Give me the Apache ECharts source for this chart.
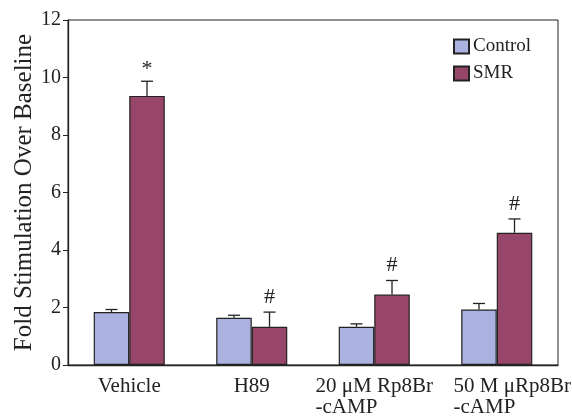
<!DOCTYPE html>
<html>
<head>
<meta charset="utf-8">
<script src="https://cdn.jsdelivr.net/npm/echarts@6/dist/echarts.min.js"></script>
<style>html,body{margin:0;padding:0;background:#fff}#chart{width:572px;height:416px}</style>
</head>
<body>
<div id="chart"></div>
<script>
// Treatment groups along the x axis
const categories = ['Vehicle', 'H89', '20 μM Rp8Br\n-cAMP', '50 M μRp8Br\n-cAMP'];
// Mean fold stimulation
const controlValues = [1.84, 1.64, 1.33, 1.93];
const smrValues = [9.36, 1.33, 2.45, 4.60];
// Upper error (SEM) for each bar
const controlErrors = [0.09, 0.09, 0.10, 0.21];
const smrErrors = [0.51, 0.51, 0.49, 0.48];
// Significance marks over SMR bars
const smrMarks = ['*', '#', '#', '#'];
const yTicks = [0, 2, 4, 6, 8, 10, 12];

const FONT = '"Liberation Serif", "Times New Roman", serif';
const CONTROL_COLOR = '#abb2e0';
const SMR_COLOR = '#974669';
const BAR_FRACTION = 0.29;

function errorSeries(values, errors, side, marks) {
  return {
    type: 'custom',
    silent: true,
    z: 5,
    data: values.map((v, i) => [i, v, v + errors[i]]),
    renderItem: function (params, api) {
      const i = api.value(0);
      const band = api.size([1, 0])[0];
      const off = side * band * BAR_FRACTION / 2;
      const base = api.coord([i, api.value(1)]);
      const top = api.coord([i, api.value(2)]);
      const x = base[0] + off;
      const children = [
        { type: 'line', shape: { x1: x, y1: base[1], x2: x, y2: top[1] }, style: { stroke: '#222', lineWidth: 1.3 } },
        { type: 'line', shape: { x1: x - 6, y1: top[1], x2: x + 6, y2: top[1] }, style: { stroke: '#222', lineWidth: 1.3 } }
      ];
      if (marks) {
        const m = marks[i];
        children.push({
          type: 'text',
          style: {
            text: m, x: x, y: top[1] - (m === '*' ? 1 : 4),
            textAlign: 'center', textVerticalAlign: 'bottom',
            font: '22px ' + FONT, fill: '#222'
          }
        });
      }
      return { type: 'group', children: children };
    }
  };
}

// Category labels: lines left-aligned within the label block;
// the last block is nudged right, against the chart edge.
const labelText = { fontFamily: FONT, fontSize: 21, color: '#222', align: 'left', lineHeight: 21 };
function formatCategory(value, index) {
  const style = index === categories.length - 1 ? 'e' : 'l';
  return value.split('\n').map(s => '{' + style + '|' + s + '}').join('\n');
}

const chart = echarts.init(document.getElementById('chart'));
chart.setOption({
  animation: false,
  backgroundColor: '#fff',
  grid: {
    left: 68, right: 14, top: 20, bottom: 51,
    outerBoundsMode: 'none', containLabel: false,
    show: true, borderColor: '#222', borderWidth: 1
  },
  legend: {
    orient: 'vertical', left: 453, top: 37, padding: 0,
    itemWidth: 15, itemHeight: 14, itemGap: 8,
    icon: 'rect',
    textStyle: { fontFamily: FONT, fontSize: 19, color: '#222', padding: [0, 0, 0, -1] },
    data: ['Control', 'SMR']
  },
  xAxis: {
    type: 'category',
    data: categories,
    axisLine: { lineStyle: { color: '#222', width: 1.3 } },
    axisTick: { inside: true, length: 9, alignWithLabel: false, lineStyle: { color: '#222' } },
    axisLabel: {
      interval: 0, margin: 11,
      formatter: formatCategory,
      rich: {
        l: labelText,
        e: Object.assign({}, labelText, { padding: [0, 0, 0, 31] })
      }
    }
  },
  yAxis: {
    type: 'value', min: 0, max: 12, interval: 2,
    name: 'Fold Stimulation Over Baseline', nameLocation: 'middle', nameGap: 31,
    nameMoveOverlap: false,
    nameTextStyle: { fontFamily: FONT, fontSize: 25, color: '#222' },
    axisLine: { show: true, lineStyle: { color: '#222', width: 1.3 } },
    axisTick: { show: true, length: 5, lineStyle: { color: '#222' } },
    axisLabel: {
      margin: 7, fontFamily: FONT, fontSize: 20, color: '#222',
      formatter: v => yTicks.includes(v) ? String(v) : ''
    },
    splitLine: { show: false }
  },
  series: [
    {
      name: 'Control', type: 'bar', data: controlValues,
      barWidth: (BAR_FRACTION * 100) + '%', barGap: '0%',
      itemStyle: { color: CONTROL_COLOR, borderColor: '#222', borderWidth: 1.2 }
    },
    {
      name: 'SMR', type: 'bar', data: smrValues,
      barWidth: (BAR_FRACTION * 100) + '%', barGap: '0%',
      itemStyle: { color: SMR_COLOR, borderColor: '#222', borderWidth: 1.2 }
    },
    errorSeries(controlValues, controlErrors, -1, null),
    errorSeries(smrValues, smrErrors, 1, smrMarks)
  ]
});
</script>
</body>
</html>
